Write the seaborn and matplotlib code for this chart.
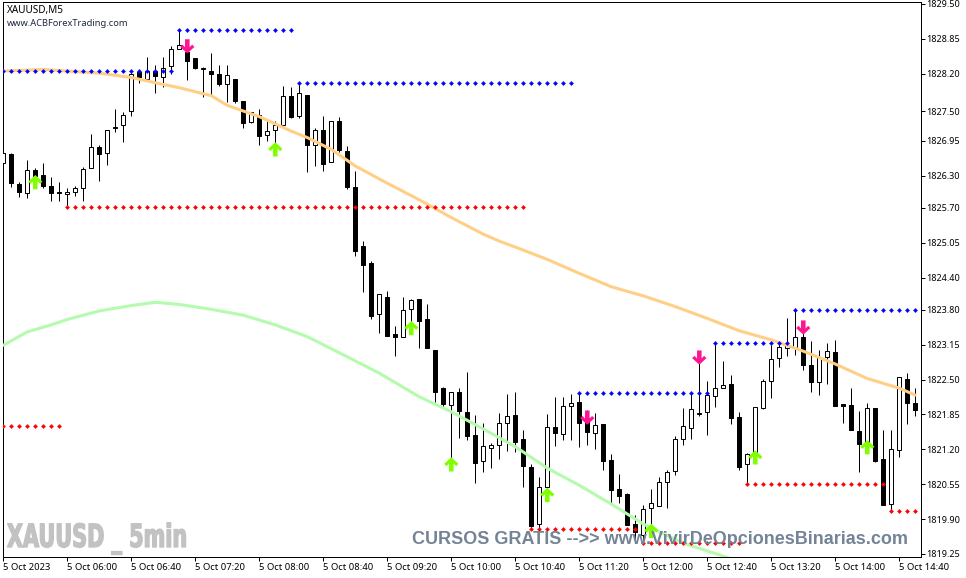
import numpy as np
import matplotlib
matplotlib.use('Agg')
import matplotlib.pyplot as plt
import matplotlib.patheffects as pe
from matplotlib.path import Path
from matplotlib.transforms import Affine2D
import seaborn as sns

# 5 minute XAUUSD bars
opens = [1826.54, 1826.70, 1826.15, 1825.97, 1826.40, 1826.31, 1826.11, 1825.99, 1825.95, 1825.99,
         1826.07, 1826.44, 1826.83, 1826.72, 1827.18, 1827.24, 1827.50, 1828.24, 1828.10, 1828.25,
         1828.13, 1828.34, 1828.67, 1828.61, 1828.49, 1828.30, 1828.26, 1828.19, 1828.00, 1828.11,
         1827.70, 1827.30, 1827.43, 1827.05, 1827.15, 1827.24, 1827.78, 1827.42, 1827.80, 1826.87,
         1827.15, 1826.55, 1827.31, 1826.76, 1826.09, 1824.99, 1824.67, 1823.72, 1824.03, 1823.35,
         1823.30, 1823.81, 1824.00, 1823.62, 1823.05, 1822.34, 1822.02, 1822.26, 1821.89, 1821.47,
         1820.98, 1821.22, 1821.28, 1821.70, 1821.84, 1821.39, 1820.88, 1819.80, 1820.49, 1821.61,
         1821.49, 1822.01, 1822.09, 1821.78, 1821.51, 1821.67, 1821.00, 1820.46, 1820.36, 1819.80,
         1819.61, 1820.10, 1820.15, 1820.60, 1820.79, 1821.39, 1821.59, 1821.86, 1821.89, 1822.19,
         1822.35, 1822.41, 1821.80, 1820.92, 1821.11, 1821.97, 1822.47, 1822.90, 1823.08, 1823.08,
         1823.29, 1822.77, 1822.46, 1822.93, 1823.01, 1822.04, 1822.02, 1821.55, 1821.30, 1821.97,
         1821.02, 1820.19, 1821.19, 1822.52, 1822.06]
highs = [1826.81, 1826.72, 1826.18, 1826.59, 1826.44, 1826.53, 1826.28, 1826.18, 1826.07, 1826.11,
         1826.46, 1827.07, 1826.87, 1827.16, 1827.54, 1827.49, 1828.27, 1828.27, 1828.52, 1828.36,
         1828.52, 1828.72, 1829.01, 1828.78, 1828.49, 1828.32, 1828.58, 1828.36, 1828.36, 1828.11,
         1827.70, 1827.49, 1827.54, 1827.32, 1827.31, 1827.97, 1827.95, 1828.02, 1827.80, 1827.19,
         1827.41, 1827.31, 1827.39, 1826.85, 1826.39, 1825.08, 1824.71, 1824.09, 1824.15, 1823.50,
         1824.03, 1824.00, 1824.00, 1823.91, 1823.05, 1822.37, 1822.26, 1822.34, 1822.64, 1821.84,
         1821.69, 1821.31, 1821.87, 1822.24, 1822.26, 1821.56, 1820.92, 1820.68, 1821.85, 1822.17,
         1822.17, 1822.23, 1822.26, 1821.93, 1821.87, 1821.67, 1821.11, 1820.75, 1820.38, 1819.98,
         1820.16, 1820.46, 1820.68, 1820.81, 1821.45, 1821.97, 1822.26, 1822.80, 1822.47, 1823.18,
         1822.85, 1822.59, 1821.89, 1821.13, 1821.98, 1822.52, 1823.14, 1823.22, 1823.64, 1823.83,
         1823.42, 1823.22, 1823.06, 1823.19, 1823.24, 1822.04, 1822.34, 1821.91, 1822.07, 1821.97,
         1821.56, 1821.56, 1822.54, 1822.62, 1822.34]
lows = [1826.28, 1826.09, 1825.91, 1825.89, 1826.07, 1826.07, 1825.83, 1825.83, 1825.71, 1825.93,
        1825.83, 1826.44, 1826.20, 1826.50, 1827.12, 1826.93, 1827.42, 1828.02, 1828.08, 1827.85,
        1827.95, 1828.20, 1828.67, 1828.08, 1828.29, 1827.76, 1827.80, 1827.97, 1827.68, 1827.66,
        1827.18, 1827.29, 1826.87, 1826.95, 1826.90, 1827.24, 1827.38, 1827.38, 1826.36, 1826.48,
        1826.39, 1826.55, 1826.75, 1826.05, 1824.81, 1824.14, 1823.63, 1823.37, 1823.32, 1822.94,
        1823.30, 1823.58, 1823.09, 1823.08, 1822.09, 1821.99, 1820.88, 1821.42, 1821.37, 1820.58,
        1820.78, 1820.86, 1821.02, 1821.17, 1821.16, 1820.49, 1819.73, 1819.73, 1820.48, 1821.27,
        1821.37, 1821.37, 1821.25, 1821.28, 1821.21, 1820.82, 1820.20, 1820.20, 1819.79, 1819.51,
        1819.51, 1819.70, 1820.15, 1820.11, 1820.72, 1821.29, 1821.40, 1821.82, 1821.47, 1821.98,
        1822.34, 1821.68, 1820.82, 1820.57, 1821.00, 1821.96, 1822.16, 1822.74, 1822.94, 1822.96,
        1822.68, 1822.27, 1822.21, 1822.42, 1822.00, 1821.70, 1821.57, 1820.77, 1821.29, 1820.97,
        1820.16, 1820.07, 1821.06, 1821.67, 1821.82]
closes = [1826.72, 1826.16, 1826.00, 1826.40, 1826.30, 1826.11, 1825.98, 1825.98, 1825.99, 1826.07,
          1826.42, 1826.83, 1826.71, 1827.16, 1827.21, 1827.44, 1828.20, 1828.13, 1828.26, 1828.16,
          1828.31, 1828.66, 1828.73, 1828.44, 1828.30, 1828.29, 1828.20, 1828.00, 1828.18, 1827.69,
          1827.29, 1827.49, 1827.04, 1827.13, 1827.24, 1827.78, 1827.39, 1827.84, 1826.88, 1827.16,
          1826.52, 1827.31, 1826.77, 1826.09, 1824.90, 1824.64, 1823.69, 1824.09, 1823.32, 1823.30,
          1823.79, 1823.98, 1823.60, 1823.08, 1822.27, 1822.05, 1822.26, 1821.92, 1821.44, 1820.95,
          1821.26, 1821.29, 1821.70, 1821.82, 1821.34, 1820.89, 1819.78, 1820.49, 1821.61, 1821.51,
          1822.00, 1822.07, 1821.70, 1821.53, 1821.65, 1820.99, 1820.44, 1820.34, 1819.79, 1819.66,
          1820.08, 1820.20, 1820.60, 1820.77, 1821.39, 1821.63, 1821.95, 1821.87, 1822.21, 1822.34,
          1822.39, 1821.79, 1820.88, 1821.11, 1821.98, 1822.47, 1822.88, 1823.11, 1823.14, 1823.29,
          1822.78, 1822.46, 1822.93, 1823.03, 1822.01, 1822.00, 1821.57, 1821.30, 1821.97, 1820.98,
          1820.16, 1821.20, 1822.54, 1822.07, 1821.94]

# moving averages, read every few bars
ema_bars = [0, 5, 12, 16, 20, 22, 26, 28, 32, 36, 38, 41, 44, 48, 52, 56, 60, 62, 64, 68, 72, 76, 80,
            84, 88, 92, 96, 100, 104, 108, 112, 114]
ema_fast = [1828.25, 1828.28, 1828.21, 1828.13, 1828.00, 1827.94, 1827.79, 1827.61, 1827.40, 1827.13,
            1827.01, 1826.79, 1826.48, 1826.16, 1825.85, 1825.52, 1825.21, 1825.08, 1824.97, 1824.74,
            1824.48, 1824.23, 1824.06, 1823.86, 1823.64, 1823.41, 1823.24, 1823.03, 1822.79, 1822.52,
            1822.34, 1822.21]
slow_bars = [0, 3, 6, 8, 12, 16, 19, 22, 26, 30, 34, 38, 42, 47, 52, 56, 60, 64, 68, 72, 76, 80, 85, 90, 91]
ema_slow = [1823.14, 1823.39, 1823.52, 1823.62, 1823.78, 1823.88, 1823.94, 1823.90, 1823.81, 1823.70,
            1823.52, 1823.30, 1823.00, 1822.62, 1822.18, 1821.90, 1821.58, 1821.25, 1820.85, 1820.53,
            1820.18, 1819.81, 1819.45, 1819.21, 1819.16]

# support / resistance runs: first bar, last bar, price
res_start = [0, 22, 37, 72, 89, 99]
res_end = [21, 36, 71, 88, 98, 114]
res_price = [1828.25, 1829.01, 1828.02, 1822.25, 1823.18, 1823.80]
sup_start = [0, 8, 66, 80, 93, 111]
sup_end = [7, 65, 79, 92, 110, 114]
sup_price = [1821.63, 1825.71, 1819.71, 1819.46, 1820.55, 1820.06]

# signal arrows
up_bars = [4, 34, 51, 56, 68, 81, 94, 108]
up_price = [1826.18, 1826.79, 1823.46, 1820.92, 1820.35, 1819.68, 1821.05, 1821.24]
down_bars = [23, 73, 87, 100]
down_price = [1828.71, 1821.79, 1822.91, 1823.47]

y_ticks = [1829.50, 1828.85, 1828.20, 1827.50, 1826.95, 1826.30, 1825.70, 1825.05, 1824.40,
           1823.80, 1823.15, 1822.50, 1821.85, 1821.20, 1820.55, 1819.90, 1819.25]
x_labels = ['5 Oct 2023', '5 Oct 06:00', '5 Oct 06:40', '5 Oct 07:20', '5 Oct 08:00', '5 Oct 08:40',
            '5 Oct 09:20', '5 Oct 10:00', '5 Oct 10:40', '5 Oct 11:20', '5 Oct 12:00', '5 Oct 12:40',
            '5 Oct 13:20', '5 Oct 14:00', '5 Oct 14:40']

sns.set_style('white')
plt.rcParams['font.family'] = ['Noto Sans', 'DejaVu Sans']

W, H = 966, 578
fig = plt.figure(figsize=(W / 100, H / 100), dpi=100)
ax = fig.add_axes([2.5 / W, 1 - 557 / H, (920.7 - 2.5) / W, (557 - 2.3) / H])

px = 72 / 100  # one pixel in points
bars = np.arange(len(opens))
o, h, l, c = map(np.array, (opens, highs, lows, closes))
bull = c >= o

ax.vlines(bars, l, h, color='black', lw=px, zorder=2)
ax.bar(bars[bull], (c - o)[bull], bottom=o[bull], width=0.5, facecolor='white',
       edgecolor='black', linewidth=px, zorder=3)
ax.bar(bars[~bull], (c - o)[~bull], bottom=o[~bull], width=0.5, facecolor='black',
       edgecolor='black', linewidth=px, zorder=3)

sns.lineplot(x=ema_bars, y=ema_fast, color='#FFCF87', lw=2.2, ax=ax, zorder=4)
sns.lineplot(x=slow_bars, y=ema_slow, color='#B5FBAE', lw=2.2, ax=ax, zorder=4)

for starts, ends, prices, col in [(res_start, res_end, res_price, '#0000FF'),
                                  (sup_start, sup_end, sup_price, '#FF0000')]:
    for a, b, p in zip(starts, ends, prices):
        run = np.arange(a, b + 1)
        sns.scatterplot(x=run, y=np.full(len(run), p), marker='D', s=5, color=col,
                        edgecolor=col, linewidth=0.2, ax=ax, zorder=5)

# MT4 style arrow shape
arrow_up = Path([(0, 1), (1, 0.08), (0.68, -0.25), (0.32, 0.12), (0.32, -1), (-0.32, -1),
                 (-0.32, 0.12), (-0.68, -0.25), (-1, 0.08), (0, 1)], closed=True)
arrow_down = Path(arrow_up.vertices * [1, -1], closed=True)
sns.scatterplot(x=up_bars, y=up_price, marker=arrow_up, s=105, color='#7FFF00',
                edgecolor='none', ax=ax, zorder=6)
sns.scatterplot(x=down_bars, y=down_price, marker=arrow_down, s=105, color='#FF1493',
                edgecolor='none', ax=ax, zorder=6)

ax.set_xlim(-0.1, 114.675)
ax.set_ylim(1819.194, 1829.531)

ax.yaxis.tick_right()
ax.set_yticks(y_ticks)
ax.set_yticklabels(['%.2f' % t for t in y_ticks])
ax.set_xticks(bars[::8])
ax.set_xticklabels(x_labels, ha='left')
ax.tick_params(axis='both', length=3, width=px, color='black', direction='out',
               labelcolor='black', bottom=True, right=True, pad=1)
ax.tick_params(axis='x', labelsize=6.8)
ax.tick_params(axis='y', labelsize=6.5)
for s in ax.spines.values():
    s.set_visible(True)
    s.set_color('black')
    s.set_linewidth(px)


class SqueezeX(pe.AbstractPathEffect):
    # the big watermark is a heavy condensed face, none is installed so narrow and thicken the glyphs
    def __init__(self, x0, factor, stroke):
        super().__init__()
        self.x0 = x0
        self.factor = factor
        self.stroke = stroke

    def draw_path(self, renderer, gc, tpath, affine, rgbFace=None):
        squeeze = Affine2D().translate(-self.x0, 0).scale(self.factor, 1).translate(self.x0, 0)
        gc0 = renderer.new_gc()
        gc0.copy_properties(gc)
        gc0.set_foreground(rgbFace)
        gc0.set_linewidth(self.stroke)
        renderer.draw_path(gc0, tpath, affine + squeeze, rgbFace)
        gc0.restore()


def fig_text(x, y, s, **kw):
    return fig.text(x / W, 1 - y / H, s, va='center', **kw)


fig_text(7, 10.5, 'XAUUSD,M5', fontsize=7.2, color='black', zorder=8)
fig_text(7, 24, 'www.ACBForexTrading.com', fontsize=6.7, color='#202840', zorder=8)
mark = fig_text(7, 539, 'XAUUSD _ 5min', fontsize=23, weight='bold', color='#C2C2C2',
                family=['DejaVu Sans'], zorder=8)
# text origin is 7px from the left, in display units
mark.set_path_effects([SqueezeX(7, 0.65, 1.0)])
fig_text(412, 539, 'CURSOS GRATIS -->> www.VivirDeOpcionesBinarias.com', fontsize=13,
         weight='bold', color='#748396', family=['Liberation Sans', 'DejaVu Sans'], zorder=8)

fig.savefig('out.png', dpi=100)
